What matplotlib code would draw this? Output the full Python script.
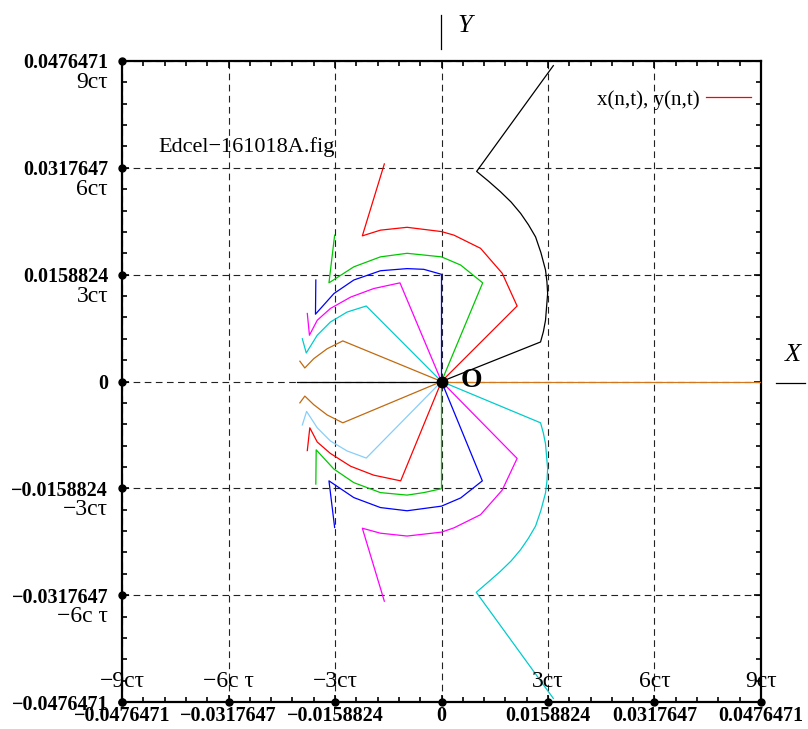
import numpy as np
import matplotlib
matplotlib.use('Agg')
import matplotlib.pyplot as plt
from matplotlib.lines import Line2D
from matplotlib.ticker import MultipleLocator

plt.rcParams['font.family'] = ['Liberation Serif', 'DejaVu Serif']

# one c*tau in plot units
CT = 0.0476471 / 9

# tick values and labels
major_ticks = [-0.0476471, -0.0317647, -0.0158824, 0, 0.0158824, 0.0317647, 0.0476471]
num_labels = ['\u22120.0476471', '\u22120.0317647', '\u22120.0158824', '0',
              '0.0158824', '0.0317647', '0.0476471']
x_ct_labels = ['\u22129c\u03c4', '\u22126c \u03c4', '\u22123c\u03c4', '', '3c\u03c4', '6c\u03c4', '9c\u03c4']
y_ct_labels = ['', '\u22126c \u03c4', '\u22123c\u03c4', '', '3c\u03c4', '6c\u03c4', '9c\u03c4']

# curves (read in units of c*tau)
up_black = [(0, 0), (2.79, 1.11), (2.87, 1.40), (2.93, 1.72), (2.99, 2.47), (2.97, 2.80),
            (2.93, 3.13), (2.80, 3.62), (2.65, 4.06), (2.45, 4.40), (2.23, 4.72),
            (1.96, 5.04), (1.66, 5.33), (1.33, 5.62), (0.99, 5.90), (3.15, 8.87)]
up_red = [(0, 0), (2.13, 2.12), (1.71, 3.04), (1.10, 3.74), (0.35, 4.11), (0, 4.21),
          (-0.97, 4.33), (-1.72, 4.25), (-2.23, 4.09), (-1.61, 6.11)]
up_green = [(0, 0), (1.16, 2.77), (0.54, 3.27), (0, 3.50), (-0.97, 3.60), (-1.72, 3.50),
            (-2.47, 3.22), (-3.17, 2.77), (-3.01, 4.11)]
up_blue = [(0, 0), (0, 3.01), (-0.50, 3.15), (-0.97, 3.17), (-1.72, 3.11), (-2.47, 2.85),
           (-3.03, 2.47), (-3.55, 1.89), (-3.54, 2.85)]
up_magenta = [(0, 0), (-1.17, 2.77), (-1.91, 2.61), (-2.56, 2.37), (-3.13, 2.05),
              (-3.50, 1.72), (-3.72, 1.30), (-3.78, 1.91)]
up_cyan = [(0, 0), (-2.12, 2.12), (-2.66, 1.95), (-3.13, 1.67), (-3.50, 1.30),
           (-3.81, 0.80), (-3.92, 1.20)]
up_brown = [(0, 0), (-2.78, 1.14), (-3.22, 0.92), (-3.60, 0.64), (-3.85, 0.38), (-3.99, 0.57)]
h_black = [(-4.06, 0), (0, 0)]
h_orange = [(0, 0), (9.0, 0)]
lo_brown = [(0, 0), (-2.78, -1.16), (-3.22, -0.94), (-3.60, -0.65), (-3.85, -0.41), (-3.99, -0.60)]
lo_lightblue = [(0, 0), (-2.12, -2.15), (-2.66, -1.95), (-3.13, -1.67), (-3.50, -1.30),
                (-3.80, -0.84), (-3.92, -1.22)]
lo_red = [(0, 0), (-1.15, -2.79), (-1.91, -2.63), (-2.56, -2.38), (-3.13, -2.02),
          (-3.50, -1.70), (-3.71, -1.30), (-3.78, -1.94)]
lo_green = [(0, 0), (0, -3.01), (-0.50, -3.12), (-0.97, -3.19), (-1.72, -3.12), (-2.47, -2.84),
            (-3.03, -2.46), (-3.53, -1.92), (-3.54, -2.88)]
lo_blue = [(0, 0), (1.15, -2.79), (0.54, -3.27), (0, -3.50), (-0.97, -3.63), (-1.72, -3.54),
           (-2.47, -3.26), (-3.17, -2.79), (-3.01, -4.10)]
lo_magenta = [(0, 0), (2.13, -2.16), (1.71, -3.05), (1.10, -3.74), (0.35, -4.11), (0, -4.23),
              (-0.97, -4.34), (-1.72, -4.26), (-2.23, -4.12), (-1.61, -6.17)]
lo_cyan = [(0, 0), (2.79, -1.16), (2.87, -1.45), (2.93, -1.75), (2.99, -2.45), (2.97, -2.80),
           (2.93, -3.13), (2.80, -3.62), (2.65, -4.06), (2.45, -4.40), (2.23, -4.72),
           (1.96, -5.04), (1.66, -5.33), (1.33, -5.62), (0.98, -5.92), (3.15, -8.90)]

curves = [
    (up_black, 'black'), (up_red, '#ff0000'), (up_green, '#00c800'), (up_blue, '#0000ff'),
    (up_magenta, '#ff00ff'), (up_cyan, '#00cccc'), (up_brown, '#c06a10'),
    (h_black, 'black'), (h_orange, '#d07820'),
    (lo_brown, '#c06a10'), (lo_lightblue, '#87cefa'), (lo_red, '#ff0000'),
    (lo_green, '#00c800'), (lo_blue, '#0000ff'), (lo_magenta, '#ff00ff'), (lo_cyan, '#00cccc'),
]

W, H = 808, 729
fig = plt.figure(figsize=(W / 100, H / 100), dpi=100)
ax = fig.add_axes([122 / W, 27 / H, 639 / W, 641 / H])

for pts, col in curves:
    a = np.array(pts) * CT
    ax.plot(a[:, 0], a[:, 1], color=col, lw=0.9, zorder=3, solid_joinstyle='round')

# legend proxy
ax.plot([], [], color='#ff0000', lw=0.9, label='x(n,t), y(n,t)')
ax.legend(loc='upper right', bbox_to_anchor=(0.985, 0.955), frameon=False,
          markerfirst=False, handlelength=2.2, handletextpad=0.3, borderpad=0,
          borderaxespad=0, prop={'size': 15})

lim = major_ticks[-1]
ax.set_xlim(-lim, lim)
ax.set_ylim(-lim, lim)

# origin
ax.plot([0], [0], 'o', color='black', ms=7.5, zorder=5)
ax.text(0.547, 0.502, 'O', transform=ax.transAxes, fontsize=20, fontweight='bold',
        ha='center', va='center')
ax.text(0.0563, 0.865, 'Edcel\u2212161018A.fig', transform=ax.transAxes, fontsize=16,
        ha='left', va='center')

ax.set_xticks(major_ticks)
ax.set_yticks(major_ticks)
ax.xaxis.set_minor_locator(MultipleLocator(major_ticks[4] / 5))
ax.yaxis.set_minor_locator(MultipleLocator(major_ticks[4] / 5))
ax.set_xticklabels(num_labels, fontweight='bold', fontsize=14.5)
ax.set_yticklabels(num_labels, fontweight='bold', fontsize=14.5)
ax.tick_params(which='both', direction='in', top=True, right=True, width=1.2)
ax.tick_params(which='major', length=5)
ax.tick_params(which='minor', length=3.5)
ax.tick_params(axis='x', pad=3)
ax.tick_params(axis='y', pad=10)
ax.grid(True, which='major', color='#222222', lw=0.8, ls=(0, (6, 4)))
for s in ax.spines.values():
    s.set_linewidth(1.6)

# dots on left and bottom axis ticks
ax.plot(major_ticks, [-lim] * len(major_ticks), 'o', color='black', ms=5, clip_on=False, zorder=6)
ax.plot([-lim] * len(major_ticks), major_ticks, 'o', color='black', ms=5, clip_on=False, zorder=6)

# c*tau labels
for v, lbl in zip(major_ticks, x_ct_labels):
    if lbl:
        ax.annotate(lbl, xy=(v, 0), xycoords=('data', 'axes fraction'), xytext=(0, 15),
                    textcoords='offset points', ha='center', va='center', fontsize=17)
for v, lbl in zip(major_ticks, y_ct_labels):
    if lbl:
        ax.annotate(lbl, xy=(0, v), xycoords=('axes fraction', 'data'), xytext=(-10, -15.5),
                    textcoords='offset points', ha='right', va='center', fontsize=17)

# axis names outside the box
fig.text(465 / W, 1 - 26 / H, 'Y', fontsize=19, style='italic', ha='center', va='center')
fig.add_artist(Line2D([441 / W, 441 / W], [1 - 15 / H, 1 - 49 / H], color='black', lw=0.9,
                      transform=fig.transFigure))
fig.text(793 / W, 1 - 355 / H, 'X', fontsize=19, style='italic', ha='center', va='center')
fig.add_artist(Line2D([776 / W, 805 / W], [1 - 383 / H, 1 - 383 / H], color='black', lw=0.9,
                      transform=fig.transFigure))

fig.savefig('out.png', dpi=100)
